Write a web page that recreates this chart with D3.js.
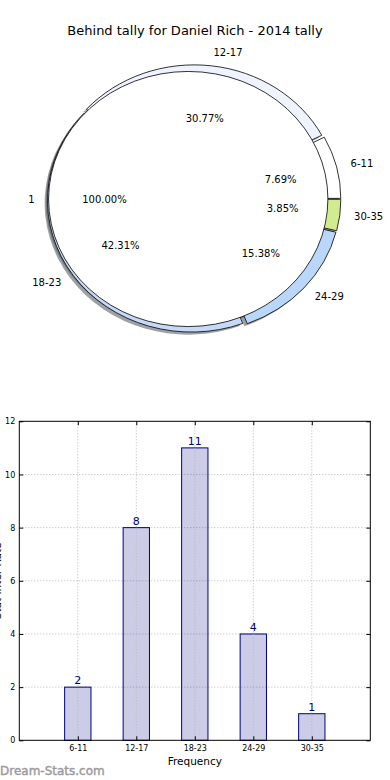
<!DOCTYPE html>
<html>
<head>
<meta charset="utf-8">
<script src="https://cdn.jsdelivr.net/npm/d3@7"></script>
<style>
  body { margin: 0; background: #fff; }
  svg { display: block; font-family: 'DejaVu Sans', sans-serif; }
</style>
</head>
<body>
<div id="chart"></div>
<script>
// data
const titleText = 'Behind tally for Daniel Rich - 2014 tally'
const categories = ['6-11', '12-17', '18-23', '24-29', '30-35']
const counts = [2, 8, 11, 4, 1]
const pieColors = ['#ffffff', '#eef3fd', '#c6daf8', '#b9d6fb', '#d3eb8f']
const innerLabels = ['1']
const innerValues = [1]
const yTicks = [0, 2, 4, 6, 8, 10, 12]

function draw() {
  let dimensions = {
    width: 390,
    height: 780,
    pie: { cx: 194, cy: 199, rx: 144, ry: 131.5 },
    bar: { left: 19.3, right: 370.3, top: 421.3, bottom: 740.3 }
  }

  const svg = d3.select('#chart')
    .append('svg')
    .attr('width', dimensions.width)
    .attr('height', dimensions.height)

  //title
  svg.append('text')
    .attr('x', 195)
    .attr('y', 35)
    .attr('text-anchor', 'middle')
    .attr('font-size', 13)
    .text(titleText)

  //pie helpers (matplotlib style: start east, counterclockwise)
  const p = dimensions.pie
  const pie = d3.pie().sort(null).startAngle(Math.PI / 2).endAngle(Math.PI / 2 - 2 * Math.PI)
  const unitArc = d3.arc().innerRadius(0)
  const pieGroup = svg.append('g')
  const shadowGroup = pieGroup.append('g')
  const wedgeGroup = pieGroup.append('g')
  const labelGroup = pieGroup.append('g').attr('font-size', 10)

  const total = d3.sum(counts)

  function drawRing(values, labels, colors, radius, explode, pctFmt) {
    const arcs = pie(values)
    arcs.forEach((a, i) => {
      const mid = (a.startAngle + a.endAngle) / 2
      const ux = Math.sin(mid), uy = -Math.cos(mid)
      const ox = p.cx + explode * ux * p.rx
      const oy = p.cy + explode * uy * p.ry
      const path = unitArc.outerRadius(radius)(a)
      const c = d3.rgb(colors[i])
      //shadow
      shadowGroup.append('path')
        .attr('d', path)
        .attr('transform', `translate(${ox - 0.02 * p.rx},${oy + 0.02 * p.ry}) scale(${p.rx},${p.ry})`)
        .attr('fill', d3.rgb(c.r * 0.3, c.g * 0.3, c.b * 0.3))
        .attr('fill-opacity', 0.5)
      //wedge
      wedgeGroup.append('path')
        .attr('d', path)
        .attr('transform', `translate(${ox},${oy}) scale(${p.rx},${p.ry})`)
        .attr('fill', colors[i])
        .attr('stroke', '#000')
        .attr('stroke-width', 0.8)
        .attr('vector-effect', 'non-scaling-stroke')
      //labels
      const lx = ox + 1.1 * radius * ux * p.rx
      const ly = oy + 1.1 * radius * uy * p.ry
      labelGroup.append('text')
        .attr('x', lx)
        .attr('y', ly)
        .attr('dy', '0.35em')
        .attr('text-anchor', lx > p.cx ? 'start' : 'end')
        .text(labels[i])
      labelGroup.append('text')
        .attr('x', ox + 0.6 * radius * ux * p.rx)
        .attr('y', oy + 0.6 * radius * uy * p.ry)
        .attr('dy', '0.35em')
        .attr('text-anchor', 'middle')
        .text(pctFmt(a.value))
    })
  }

  drawRing(counts, categories, pieColors, 1, 0.02, v => (100 * v / total).toFixed(2) + '%')
  drawRing(innerValues, innerLabels, ['#ffffff'], 0.97, 0.04, v => (100 * v / d3.sum(innerValues)).toFixed(2) + '%')

  //bar chart
  const b = dimensions.bar
  const xScale = d3.scaleLinear().domain([-1, categories.length]).range([b.left, b.right])
  const yScale = d3.scaleLinear().domain([0, 12]).range([b.bottom, b.top])
  const barWidth = 0.45

  const barGroup = svg.append('g')

  //horizontal grid
  barGroup.selectAll('.hgrid')
    .data(yTicks.slice(1, -1))
    .join('line')
    .attr('x1', b.left).attr('x2', b.right)
    .attr('y1', d => yScale(d)).attr('y2', d => yScale(d))
    .attr('stroke', '#b8b8b8')
    .attr('stroke-dasharray', '1,2')

  //bars
  barGroup.selectAll('rect')
    .data(counts)
    .join('rect')
    .attr('x', (d, i) => xScale(i - barWidth / 2))
    .attr('width', xScale(barWidth) - xScale(0))
    .attr('y', d => yScale(d))
    .attr('height', d => yScale(0) - yScale(d))
    .attr('fill', '#000080')
    .attr('fill-opacity', 0.2)
    .attr('stroke', '#000080')
    .attr('stroke-width', 1)

  //vertical grid on top of bars
  barGroup.append('g').selectAll('line')
    .data(categories)
    .join('line')
    .attr('x1', (d, i) => xScale(i)).attr('x2', (d, i) => xScale(i))
    .attr('y1', b.top).attr('y2', b.bottom)
    .attr('stroke', '#b8b8b8')
    .attr('stroke-dasharray', '1,2')

  //value labels
  barGroup.selectAll('.val')
    .data(counts)
    .join('text')
    .attr('x', (d, i) => xScale(i))
    .attr('y', d => yScale(d) - 3)
    .attr('text-anchor', 'middle')
    .attr('font-size', 11)
    .attr('fill', '#000080')
    .text(d => d)

  //frame
  barGroup.append('rect')
    .attr('x', b.left).attr('y', b.top)
    .attr('width', b.right - b.left).attr('height', b.bottom - b.top)
    .attr('fill', 'none')
    .attr('stroke', '#000')
    .attr('stroke-width', 1)

  //axes (inward ticks)
  const yAxisL = d3.axisLeft(yScale).tickValues(yTicks).tickSize(-4).tickPadding(4)
  const yAxisR = d3.axisRight(yScale).tickValues(yTicks).tickSize(-4).tickFormat('')
  const xAxisB = d3.axisBottom(xScale).tickValues(d3.range(categories.length))
    .tickFormat(i => categories[i]).tickSize(-4).tickPadding(5)
  const xAxisT = d3.axisTop(xScale).tickValues(d3.range(categories.length)).tickSize(-4).tickFormat('')

  const axes = [
    [yAxisL, `translate(${b.left},0)`],
    [yAxisR, `translate(${b.right},0)`],
    [xAxisB, `translate(0,${b.bottom})`],
    [xAxisT, `translate(0,${b.top})`]
  ]
  axes.forEach(([ax, tr]) => {
    const g = svg.append('g').attr('transform', tr).call(ax)
    g.select('.domain').remove()
    g.selectAll('text').attr('font-size', 8).attr('fill', '#000').attr('font-family', 'DejaVu Sans')
    g.selectAll('line').attr('stroke', '#000')
  })

  //axis labels
  svg.append('text')
    .attr('x', (b.left + b.right) / 2)
    .attr('y', 765)
    .attr('text-anchor', 'middle')
    .attr('font-size', 10.5)
    .text('Frequency')
  svg.append('text')
    .attr('transform', `translate(1,${(b.top + b.bottom) / 2}) rotate(-90)`)
    .attr('text-anchor', 'middle')
    .attr('font-size', 10.5)
    .text('Stat Inter Rate')

  //watermark
  svg.append('text')
    .attr('x', 0)
    .attr('y', 775)
    .attr('font-size', 12)
    .attr('fill', '#9a9a9a')
    .attr('stroke', '#9a9a9a')
    .attr('stroke-width', 0.4)
    .text('Dream-Stats.com')
}

draw()
</script>
</body>
</html>
